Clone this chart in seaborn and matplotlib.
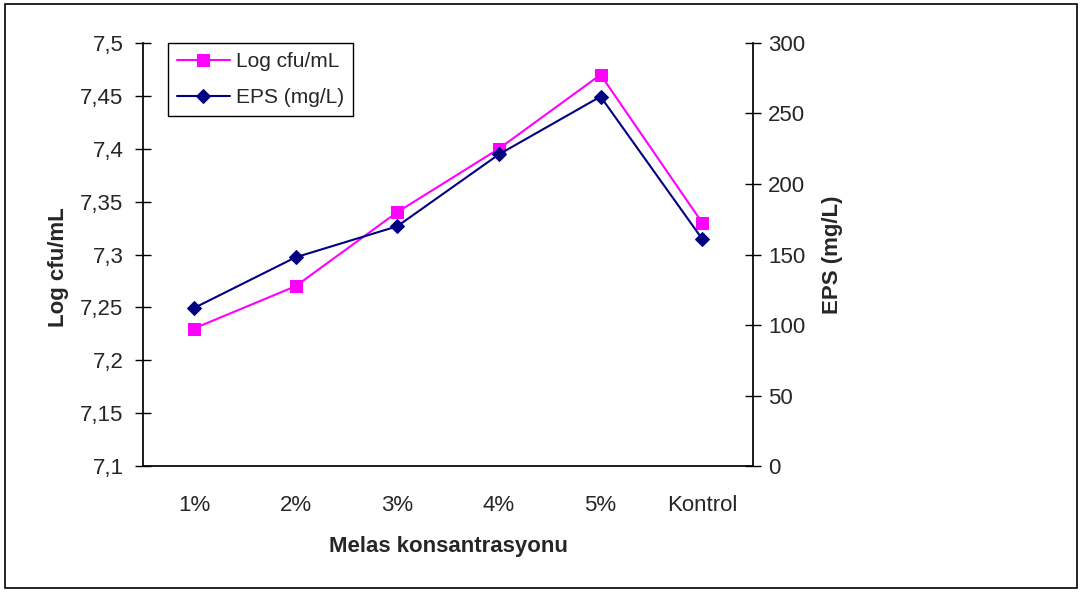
import matplotlib
matplotlib.use('Agg')
import matplotlib.pyplot as plt
from matplotlib.patches import Rectangle
import seaborn as sns
import pandas as pd

categories = ['1%', '2%', '3%', '4%', '5%', 'Kontrol']
log_cfu = [7.23, 7.27, 7.34, 7.40, 7.47, 7.33]
eps = [112, 148, 170, 221, 262, 161]

left_ticks = [7.1, 7.15, 7.2, 7.25, 7.3, 7.35, 7.4, 7.45, 7.5]
left_labels = ['7,1', '7,15', '7,2', '7,25', '7,3', '7,35', '7,4', '7,45', '7,5']
right_ticks = [0, 50, 100, 150, 200, 250, 300]

sns.set_theme(style='white')
plt.rcParams['font.family'] = ['Liberation Sans', 'DejaVu Sans']

df = pd.DataFrame({'pos': [i + 0.5 for i in range(len(categories))],
                   'log': log_cfu, 'eps': eps})

fig = plt.figure(figsize=(10.82, 5.92), dpi=100)
ax = fig.add_axes([0.1322, 0.2128, 0.5638, 0.7146])
ax2 = ax.twinx()

sns.lineplot(data=df, x='pos', y='log', ax=ax, color='#FF00FF', marker='s',
             markersize=8, markeredgecolor='#FF00FF', linewidth=1.5, label='Log cfu/mL', legend=False)
sns.lineplot(data=df, x='pos', y='eps', ax=ax2, color='#000080', marker='D',
             markersize=7, markeredgecolor='#000080', linewidth=1.5, label='EPS (mg/L)', legend=False)

ax.set_xlim(0, len(categories))
ax.set_ylim(7.1, 7.5)
ax2.set_ylim(0, 300)

ax.set_yticks(left_ticks)
ax.set_yticklabels(left_labels)
ax2.set_yticks(right_ticks)

# category boundaries get the tick marks, names sit between them
ax.set_xticks(range(len(categories) + 1))
ax.set_xticklabels([])
ax.set_xticks([i + 0.5 for i in range(len(categories))], minor=True)
ax.set_xticklabels(categories, minor=True)
ax.tick_params(axis='x', which='major', direction='out', length=8, width=1, color='black')
ax.tick_params(axis='x', which='minor', length=0, pad=21, labelsize=16)
ax.tick_params(axis='y', direction='inout', length=12, width=1, color='black', labelsize=16, pad=8)
ax2.tick_params(axis='y', direction='inout', length=12, width=1, color='black', labelsize=16, pad=5)

for a in (ax, ax2):
    a.spines['top'].set_visible(False)
    for s in ('left', 'right', 'bottom'):
        a.spines[s].set_color('black')
    a.grid(False)
ax.spines['right'].set_visible(False)
ax2.spines['left'].set_visible(False)
ax2.spines['bottom'].set_visible(False)

ax.set_xlabel('Melas konsantrasyonu', fontsize=16, fontweight='bold', labelpad=14)
ax.set_ylabel('Log cfu/mL', fontsize=16, fontweight='bold', labelpad=8)
ax.yaxis.label.set_y(0.47)
ax2.set_ylabel('EPS (mg/L)', fontsize=16, fontweight='bold', labelpad=12)

h1, l1 = ax.get_legend_handles_labels()
h2, l2 = ax2.get_legend_handles_labels()
leg = ax2.legend(h1 + h2, l1 + l2, loc='upper left', bbox_to_anchor=(0.041, 1.0),
                 borderaxespad=0, frameon=True, fancybox=False, framealpha=1,
                 edgecolor='black', fontsize=15, handlelength=2.5, handletextpad=0.3,
                 borderpad=0.45, labelspacing=0.8)
leg.get_frame().set_linewidth(1)

fig.patches.append(Rectangle((0.005, 0.006), 0.99, 0.988, transform=fig.transFigure,
                             fill=False, edgecolor='black', linewidth=1.2))

fig.savefig('out.png', dpi=100)
